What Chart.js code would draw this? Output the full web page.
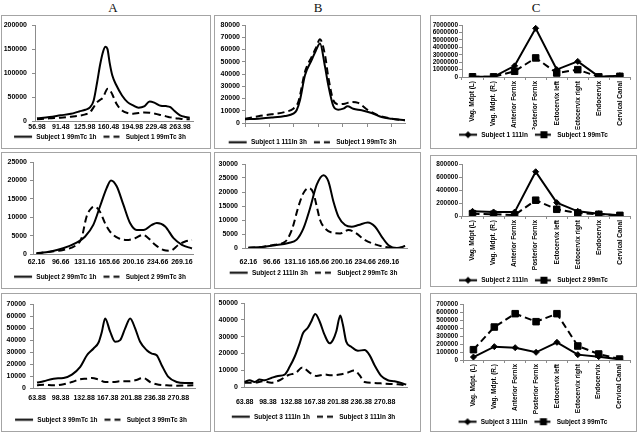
<!DOCTYPE html>
<html><head><meta charset="utf-8">
<script src="https://cdn.jsdelivr.net/npm/chart.js@4"></script>
<style>
html,body{margin:0;padding:0;background:#fff;}
body{width:640px;height:433px;position:relative;overflow:hidden;}
.box{position:absolute;border:1px solid #a4a4a4;box-sizing:border-box;background:#fff;}
.box canvas{display:block;}
.ttl{position:absolute;top:1px;width:20px;text-align:center;font-family:'Liberation Serif','Times New Roman',serif;font-size:13px;line-height:13px;color:#111;}
</style></head><body>
<div class="ttl" style="left:103px">A</div>
<div class="ttl" style="left:308px">B</div>
<div class="ttl" style="left:526px">C</div>
<div class="box" style="left:1px;top:15px;width:210px;height:134px"><canvas id="a1" width="208" height="132"></canvas></div>
<div class="box" style="left:1px;top:152px;width:210px;height:137px"><canvas id="a2" width="208" height="135"></canvas></div>
<div class="box" style="left:1px;top:293px;width:210px;height:139px"><canvas id="a3" width="208" height="137"></canvas></div>
<div class="box" style="left:214px;top:15px;width:207px;height:134px"><canvas id="b1" width="205" height="132"></canvas></div>
<div class="box" style="left:214px;top:152px;width:207px;height:137px"><canvas id="b2" width="205" height="135"></canvas></div>
<div class="box" style="left:214px;top:293px;width:207px;height:139px"><canvas id="b3" width="205" height="137"></canvas></div>
<div class="box" style="left:430px;top:15px;width:207px;height:134px"><canvas id="c1" width="205" height="132"></canvas></div>
<div class="box" style="left:430px;top:155px;width:207px;height:132px"><canvas id="c2" width="205" height="130"></canvas></div>
<div class="box" style="left:430px;top:293px;width:207px;height:139px"><canvas id="c3" width="205" height="137"></canvas></div>
<script>
// ---------- tick labels ----------
const ticks1 = ['56.98','91.48','125.98','160.48','194.98','229.48','263.98'];
const ticks2 = ['62.16','96.66','131.16','165.66','200.16','234.66','269.16'];
const ticks3 = ['63.88','98.38','132.88','167.38','201.88','236.38','270.88'];

// ---------- column A ----------
const a1X   = [57,75,91,106,118,127,134,139,144,148.5,153,156,159,162,166,172,180,188,196,204,212,220,228,236,244,250,256,264,272,278];
const a1Y1h = [5500,8300,11800,15000,20000,23500,29000,43000,81000,119000,146700,155000,150000,122500,94800,74000,53300,39400,32500,27700,30400,40800,37400,31800,31100,29000,20800,11800,8300,6900];
const a1Y3h = [3500,5500,6900,9000,11000,13800,18700,29000,39400,44300,49800,60200,67100,65000,55400,36000,22100,16600,15200,16600,18000,17300,15200,12500,9700,7600,6200,4800,3500,3500];

const a2X1h = [62.16,81.2,100.2,119.3,131.2,143.1,152.6,162.1,168.3,176.4,185.9,195.4,204.9,214.5,226.4,233.5,245.4,257.3,269.2,283.5];
const a2Y1h = [200,640,1550,3100,4700,7900,12900,17900,20000,18400,13400,8400,6500,6500,7900,8400,7500,4300,2500,1500];
const a2X3h = [62.16,81.2,100.2,119.3,126.4,133.6,140.7,144.5,152.6,159.7,166.9,178.8,190.7,202.6,213.5,221.6,231.1,243,252.5,264.4,273.9,283.5];
const a2Y3h = [100,640,1100,2500,4300,10200,12500,12900,11500,8400,6100,4300,3800,4300,5200,4300,2500,1100,900,2500,3400,3800];

const a3X1h = [63.88,73.6,88.2,102.8,115,127.2,137,146.7,154,158.9,163.7,171,178.3,185.7,193,200.3,207.6,214.9,224.6,232,239.2,246.5,256.3,268.5,280.6,292.8];
const a3Y1h = [4500,5600,7800,8400,11200,17600,27300,32900,37900,46900,58000,46900,38500,39900,49700,58000,49700,38500,31500,28700,27300,19000,9200,5000,4200,4200];
const a3X3h = [63.88,73.6,88.2,102.8,115,127.2,137,144.3,154,163.7,175.9,185.7,197.8,207.6,219.8,229.5,239.2,253.8,268.5,292.8];
const a3Y3h = [2200,2800,2200,3100,5000,7300,7800,8400,7000,5000,5000,5600,5600,6400,8400,5000,3100,2200,1950,2200];

// ---------- column B ----------
const b1XIn = [56.98,75.8,94.6,113.4,125.2,129.9,134.6,141.7,151.1,157,162.9,170,174.6,181.7,188.7,195.8,201.9,209.9,221.7,235.8,249.9,264,282.9];
const b1YIn = [3000,3550,4400,5700,7600,10400,18600,39000,51300,59000,65000,46000,31000,14000,10900,11700,13600,11700,10400,8200,4900,3500,2200];
const b1XTc = [56.98,75.8,94.6,113.4,125.2,132.3,141.7,151.1,157,162.9,170,174.6,181.7,188.7,198.1,207.5,216.9,231,245.2,264,282.9];
const b1YTc = [3500,5500,7100,9000,11700,17200,41800,54000,61000,68300,55400,37700,18600,15300,15800,17200,16400,10400,6300,3500,2200];

const b2XIn = [62.16,81.9,101.6,121.3,133.6,143.5,153.3,163.2,173.1,180.4,187.8,195.2,205.1,214.9,224.8,238.6,249.4,259.3,269.2,281.5,293.8];
const b2YIn = [100,360,960,1800,3000,7000,14200,22600,26000,23800,16600,11200,8200,7600,8200,9100,7600,4000,1000,0,700];
const b2XTc = [62.16,81.9,101.6,116.4,126.3,136.1,143.5,150.9,158.3,163.2,168.1,175.5,185.4,197.7,210,219.9,234.7,249.4,264.2,281.5,293.8];
const b2YTc = [100,360,1200,2200,6400,14800,19600,21400,19600,14800,10000,7000,5500,5200,6400,5500,2800,1300,360,0,360];

const b3X1h = [63.88,71.3,78.7,86,93.4,103.3,113.1,123,130.4,137.8,145.2,150.1,157.5,162.4,168.3,174.8,182.1,189.5,194.5,199.4,205.3,209.2,214.1,221.5,231.4,241.2,248.6,256,265.8,275.7,285.5,295.4,302.8];
const b3Y1h = [3000,4000,3000,4400,4000,5400,6600,7400,12000,18000,26000,32000,35400,39000,43400,39000,31000,26000,28000,33000,42600,37000,27000,24000,21600,22000,19000,13000,6600,4000,3400,2400,1400];
const b3X3h = [63.88,78.7,91,103.3,115.6,127.9,140.2,149.1,159.9,169.8,182.1,192,204.3,216.6,225.5,233.9,241.2,256,270.8,290.5,302.8];
const b3Y3h = [2600,2600,3400,2600,4000,7000,8600,11600,8600,6600,7400,7000,7400,8600,9800,7000,3000,2400,2000,1600,1000];

// ---------- column C ----------
const cSites = ['Anterior Fornix','Posterior Fornix','Ectocervix left','Ectocervix right','Endocervix','Cervical Canal'];
const c1Labels = ['Vag. Mdpt (L)','Vag. Mdpt. (R.)'].concat(cSites);
const c2Labels = ['Vag. Mdpt (L)','Vag. Mdpt. (R.)'].concat(cSites);
const c3Labels = ['Vag. Mdpt. (L)','Vag. Mdpt. (R.)'].concat(cSites);
const c1In = [50000,30000,1500000,6550000,1000000,2100000,50000,180000];
const c1Tc = [30000,20000,770000,2570000,540000,990000,20000,90000];
const c2In = [72000,62000,60000,681000,206000,72000,36000,10000];
const c2Tc = [36000,26000,15000,243000,103000,46000,26000,10000];
const c3In = [37000,167000,154000,96000,221000,67000,42000,8000];
const c3Tc = [129000,412000,579000,479000,579000,175000,75000,12000];

// ---------- helpers ----------
const FAM = "'Liberation Sans', Arial, sans-serif";
const NARROW = "'Liberation Sans Narrow', 'Liberation Sans', Arial, sans-serif";
const AX = '#8c8c8c';
const DASH = [7,4];

function pairs(xs, ys){ return xs.map((x,i)=>({x:x, y:ys[i]})); }

function sample(dashed, marker){
  const c = document.createElement('canvas'); c.width = 24; c.height = 9;
  const g = c.getContext('2d');
  g.strokeStyle = '#000'; g.lineWidth = 2;
  if (dashed) g.setLineDash([6,4]);
  g.beginPath(); g.moveTo(5,4.5); g.lineTo(23,4.5); g.stroke();
  g.setLineDash([]); g.fillStyle = '#000';
  if (marker === 'diamond'){ g.beginPath(); g.moveTo(14,1); g.lineTo(17.5,4.5); g.lineTo(14,8); g.lineTo(10.5,4.5); g.closePath(); g.fill(); }
  if (marker === 'square'){ g.fillRect(10.5,1,7,7); }
  return c;
}

function legend(samples){
  return { position:'bottom', maxHeight:11,
    labels:{ usePointStyle:true, pointStyleWidth:24, padding:2, color:'#000',
      font:{family:FAM, size:6.5, weight:'bold'},
      generateLabels: ch => Chart.defaults.plugins.legend.labels.generateLabels(ch).map((it,i)=>Object.assign(it,{pointStyle:samples[i]})) } };
}

function yScale(max, step, g){
  return { min:0, max:max, afterFit: s => { s.width = g.yw; },
    grid:{display:true, drawOnChartArea:false, drawTicks:true, tickLength:3, color:AX},
    border:{display:true, color:AX},
    ticks:{stepSize:step, autoSkip:false, padding:g.yp, color:'#000', font:{family:FAM, size:g.yf || 7, weight:'bold'}, callback: v => String(v)} };
}

function lineDs(label, data, dashed){
  const d = {label:label, data:data, borderColor:'#000', backgroundColor:'#000', borderWidth:2,
    pointRadius:0, cubicInterpolationMode:'monotone', fill:false};
  if (dashed) d.borderDash = DASH;
  return d;
}

function profile(id, tk, xmin, xmax, ymax, ystep, ds, g){
  new Chart(document.getElementById(id), {
    type:'line',
    data:{datasets:ds},
    options:{
      responsive:false, animation:false, devicePixelRatio:1,
      layout:{padding:{left:0, top:g.top, right:g.right, bottom:g.bottom}},
      plugins:{legend:legend([sample(false), sample(true)]), tooltip:{enabled:false}},
      scales:{
        x:{type:'linear', min:xmin, max:xmax, bounds:'data',
          afterFit: s => { s.height = g.xh; },
          afterBuildTicks: s => { s.ticks = tk.map(t => ({value:parseFloat(t)})); },
          grid:{display:true, drawOnChartArea:false, drawTicks:!!g.xt, tickLength:g.xt || 0, color:AX},
          border:{display:true, color:AX},
          ticks:{autoSkip:false, maxRotation:0, minRotation:0, padding:g.xp, color:'#000',
            font:{family:FAM, size:7, weight:'bold'},
            callback:(v,i) => g.hide ? '' : tk[i]}},
        y:yScale(ymax, ystep, g)
      }
    }
  });
}

function sites(id, labels, inData, tcData, nIn, nTc, ymax, ystep, g){
  new Chart(document.getElementById(id), {
    type:'line',
    data:{labels:labels, datasets:[
      {label:nIn, data:inData, borderColor:'#000', backgroundColor:'#000', borderWidth:2, tension:0,
       pointStyle:'rectRot', pointRadius:3, pointBorderWidth:1, pointBackgroundColor:'#000', pointBorderColor:'#000'},
      {label:nTc, data:tcData, borderColor:'#000', backgroundColor:'#000', borderWidth:2, tension:0, borderDash:DASH,
       pointStyle:'rect', pointRadius:4.6, pointBorderWidth:1, pointBackgroundColor:'#000', pointBorderColor:'#000'}
    ]},
    options:{
      responsive:false, animation:false, devicePixelRatio:1,
      layout:{padding:{left:0, top:g.top, right:g.right, bottom:g.bottom}},
      plugins:{legend:legend([sample(false,'diamond'), sample(true,'square')]), tooltip:{enabled:false}},
      scales:{
        x:{type:'category', offset:true, afterFit: s => { s.height = g.xh; },
          grid:{display:true, offset:true, drawOnChartArea:false, drawTicks:true, tickLength:3, color:AX},
          border:{display:true, color:AX},
          ticks:{autoSkip:false, maxRotation:90, minRotation:90, padding:1, color:'#000',
            font:{family:NARROW, size:6.5, weight:'bold'}}},
        y:yScale(ymax, ystep, g)
      }
    }
  });
}

// ---------- build ----------
profile('a1', ticks1, 54.1, 282.7, 200000, 50000,
  [lineDs('Subject 1 99mTc 1h', pairs(a1X, a1Y1h), false), lineDs('Subject 1 99mTc 3h', pairs(a1X, a1Y3h), true)],
  {yw:33, yp:5, top:8, right:17, bottom:5.5, xh:10.5, xp:2});
profile('a2', ticks2, 57.3, 285, 25000, 5000,
  [lineDs('Subject 2 99mTc 1h', pairs(a2X1h, a2Y1h), false), lineDs('Subject 2 99mTc 3h', pairs(a2X3h, a2Y3h), true)],
  {yw:31, yp:3, top:9, right:17, bottom:5.5, xh:17.5, xp:4});
profile('a3', ticks3, 58, 295.3, 70000, 10000,
  [lineDs('Subject 3 99mTc 1h', pairs(a3X1h, a3Y1h), false), lineDs('Subject 3 99mTc 3h', pairs(a3X3h, a3Y3h), true)],
  {yw:31, yp:4, top:10, right:15, bottom:5.5, xh:26.5, xp:6});
profile('b1', ticks1, 56.98, 283, 80000, 10000,
  [lineDs('Subject 1 111In 3h', pairs(b1XIn, b1YIn), false), lineDs('Subject 1 99mTc 3h', pairs(b1XTc, b1YTc), true)],
  {yw:30, yp:2, top:9, right:15, bottom:0, xh:14, xp:2, xt:4, hide:true});
profile('b2', ticks2, 57.2, 296.5, 30000, 5000,
  [lineDs('Subject 2 111In 3h', pairs(b2XIn, b2YIn), false), lineDs('Subject 2 99mTc 3h', pairs(b2XTc, b2YTc), true)],
  {yw:30, yp:4, top:11, right:13, bottom:9.5, xh:19.5, xp:10});
profile('b3', ticks3, 62.9, 304, 50000, 10000,
  [lineDs('Subject 3 111In 1h', pairs(b3X1h, b3Y1h), false), lineDs('Subject 3 111In 3h', pairs(b3X3h, b3Y3h), true)],
  {yw:29, yp:3, top:9, right:13, bottom:8.5, xh:24.5, xp:11});
sites('c1', c1Labels, c1In, c1Tc, 'Subject 1 111In', 'Subject 1 99mTc', 7000000, 1000000,
  {yw:31, yp:1, yf:6.5, top:9, right:5, bottom:7.5, xh:52.5});
sites('c2', c2Labels, c2In, c2Tc, 'Subject 2 111In', 'Subject 2 99mTc', 800000, 200000,
  {yw:31, yp:1, yf:6.5, top:8, right:5, bottom:0, xh:59});
sites('c3', c3Labels, c3In, c3Tc, 'Subject 3 111In', 'Subject 3 99mTc', 700000, 100000,
  {yw:32, yp:2, yf:6.5, top:10, right:6, bottom:3.5, xh:56.5});
</script>
</body></html>
